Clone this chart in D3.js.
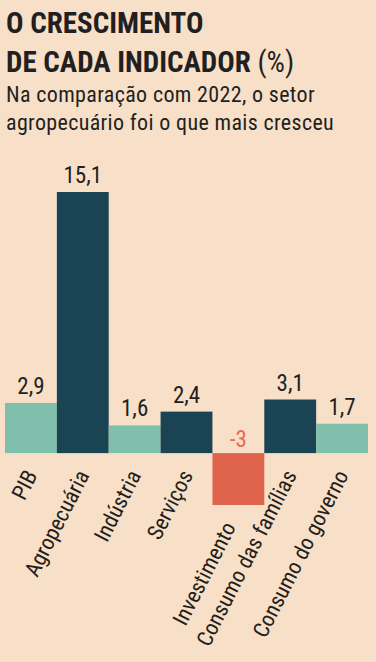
<html>

<head>
    <meta charset="utf-8">
    <style>
        body { margin: 0; background: #f8dfc8; }
        text { font-family: "Roboto Condensed", "Liberation Sans Narrow", "DejaVu Sans Condensed", Roboto, sans-serif; fill: #231f20; }
    </style>
</head>

<body>
    <svg id="chart"></svg>
</body>
<script src="https://cdn.jsdelivr.net/npm/d3@7"></script>
<script>
    let width = 376,
        height = 662;

    let categories = ["PIB", "Agropecuária", "Indústria", "Serviços", "Investimento", "Consumo das famílias", "Consumo do governo"]
    let values = [2.9, 15.1, 1.6, 2.4, -3, 3.1, 1.7]
    let valueLabels = ["2,9", "15,1", "1,6", "2,4", "-3", "3,1", "1,7"]

    let titleLines = ["O CRESCIMENTO", "DE CADA INDICADOR"]
    let subtitleLines = ["Na comparação com 2022, o setor", "agropecuário foi o que mais cresceu"]

    let svg = d3.select("#chart").attr("width", width).attr("height", height)

    let x = d3.scaleBand().domain(categories).range([5, 368]).padding(0)
    let y = d3.scaleLinear().domain([-3, 15.1]).range([505, 192])

    function barColor(v, i) {
        if (v < 0) return "#e0644c"
        return i % 2 == 0 ? "#80bfab" : "#1a4454"
    }

    function drawHeader() {
        svg.append("text").attr("x", 6).attr("y", 33)
            .style("font-size", "29px").style("font-weight", "bold")
            .text(titleLines[0])

        let t2 = svg.append("text").attr("x", 6).attr("y", 72)
            .style("font-size", "29px")
        t2.append("tspan").style("font-weight", "bold").text(titleLines[1])
        t2.append("tspan").text(" (%)")

        svg.selectAll(".sub").data(subtitleLines).enter().append("text")
            .attr("class", "sub")
            .attr("x", 6).attr("y", (d, i) => 102 + i * 28)
            .style("font-size", "22px")
            .style("letter-spacing", "0.35px")
            .text(d => d)
    }

    function drawBars() {
        let data = categories.map((c, i) => ({ cat: c, v: values[i], label: valueLabels[i], i: i }))

        svg.append("g").selectAll("rect").data(data).enter().append("rect")
            .attr("x", d => x(d.cat))
            .attr("width", x.bandwidth())
            .attr("y", d => y(Math.max(0, d.v)))
            .attr("height", d => Math.abs(y(d.v) - y(0)))
            .attr("fill", d => barColor(d.v, d.i))

        svg.append("g").selectAll("text").data(data).enter().append("text")
            .attr("x", d => x(d.cat) + x.bandwidth() / 2)
            .attr("y", d => d.v < 0 ? y(0) - 6 : y(d.v) - 9)
            .attr("text-anchor", "middle")
            .style("font-size", "23px")
            .style("fill", d => d.v < 0 ? "#ea6b55" : "#231f20")
            .text(d => d.label)

        svg.append("g").selectAll("text").data(data).enter().append("text")
            .attr("transform", d => {
                let cx = x(d.cat) + x.bandwidth() / 2 + (d.v < 0 ? -2 : 7)
                let cy = (d.v < 0 ? y(d.v) : y(0)) + 22
                return "translate(" + cx + "," + cy + ") rotate(-63)"
            })
            .attr("text-anchor", "end")
            .style("font-size", "22px")
            .text(d => d.cat)
    }

    drawHeader()
    drawBars()
</script>

</html>
